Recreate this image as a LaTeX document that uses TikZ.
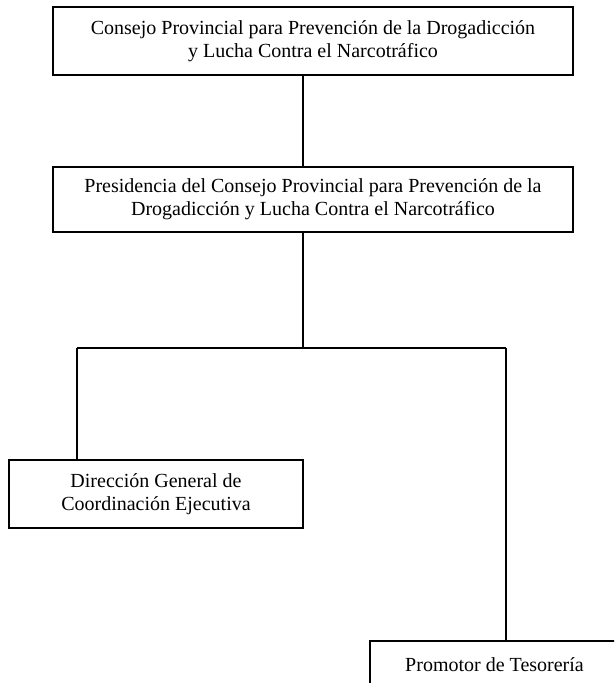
\documentclass[tikz,border=0pt]{standalone}
\usepackage{fontspec}
\setmainfont{Liberation Serif}
\begin{document}
\begin{tikzpicture}[x=1pt,y=-1pt,
  orgbox/.style={draw, line width=1.4pt, rectangle, inner sep=0pt, align=center,
     font=\fontsize{20}{23}\selectfont},
  link/.style={line width=1.1pt}]
\useasboundingbox (0,0) rectangle (614,683);
\clip (0,0) rectangle (614,683);
\fill[white] (0,0) rectangle (614,683);
\node[orgbox, minimum width=520pt, minimum height=68pt] (consejo) at (313,41)
  {Consejo Provincial para Prevención de la Drogadicción\\y Lucha Contra el Narcotráfico};
\node[orgbox, minimum width=520pt, minimum height=65pt] (pres) at (313,199.5)
  {Presidencia del Consejo Provincial para Prevención de la\\Drogadicción y Lucha Contra el Narcotráfico};
\node[orgbox, minimum width=294pt, minimum height=68pt] (dir) at (156,494)
  {Dirección General de\\Coordinación Ejecutiva};
\node[orgbox, minimum width=249pt, minimum height=48pt] (prom) at (494.5,665)
  {Promotor de Tesorería};
\coordinate (split) at (303,348);
\draw[link] (consejo.south -| split) -- (pres.north -| split);
\draw[link] (pres.south -| split) -- (split);
\draw[link] (split -| 77,0) -- (split -| 506,0);
\draw[link] (split -| 77,0) -- (dir.north -| 77,0);
\draw[link] (split -| 506,0) -- (prom.north -| 506,0);
\end{tikzpicture}
\end{document}
